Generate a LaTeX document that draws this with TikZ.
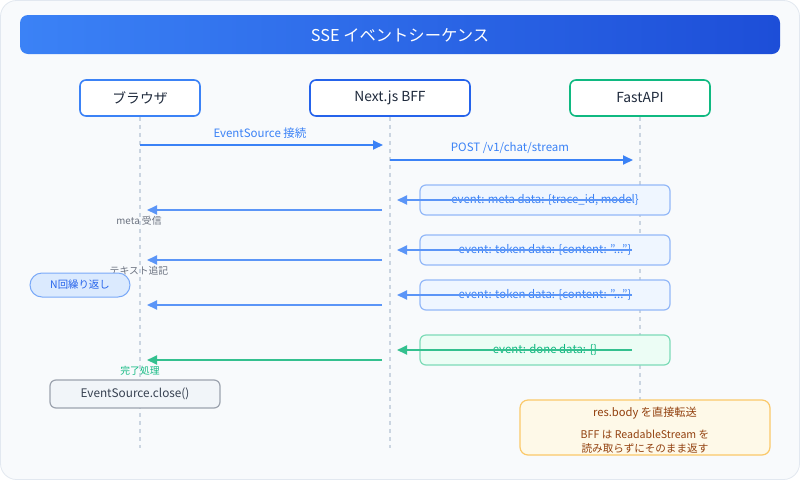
\documentclass[tikz,border=0pt]{standalone}
\usepackage{fontspec}
\setmainfont{Noto Sans CJK JP}
\usetikzlibrary{arrows.meta}
\definecolor{bgc}{HTML}{F8FAFC}
\definecolor{bgline}{HTML}{E2E8F0}
\definecolor{tleft}{HTML}{3B82F6}
\definecolor{tright}{HTML}{1D4ED8}
\definecolor{blu}{HTML}{3B82F6}
\definecolor{blud}{HTML}{2563EB}
\definecolor{blul}{HTML}{5B95F7}
\definecolor{grn}{HTML}{10B981}
\definecolor{grnl}{HTML}{34C08F}
\definecolor{lifec}{HTML}{CBD5E1}
\definecolor{grytxt}{HTML}{6B7280}
\definecolor{darktxt}{HTML}{1E293B}
\definecolor{evfill}{HTML}{EFF6FF}
\definecolor{evline}{HTML}{93B8F8}
\definecolor{dnfill}{HTML}{ECFDF5}
\definecolor{dnline}{HTML}{7DDBB8}
\definecolor{pillfill}{HTML}{DBEAFE}
\definecolor{pillline}{HTML}{7AA9F8}
\definecolor{clfill}{HTML}{F1F5F9}
\definecolor{clline}{HTML}{9CA3AF}
\definecolor{cltxt}{HTML}{374151}
\definecolor{ntfill}{HTML}{FEF9E8}
\definecolor{ntline}{HTML}{FBC96A}
\definecolor{nttxt}{HTML}{92400E}
\begin{document}
\begin{tikzpicture}[x=1pt,y=-1pt,
  actor/.style={draw, fill=white, rounded corners=6pt, line width=1.6pt,
    minimum width=#1, minimum height=36pt, inner sep=0pt, text=darktxt,
    font=\fontsize{13.8}{15}\selectfont},
  life/.style={draw=lifec, line width=1.4pt, dash pattern=on 4pt off 4pt},
  msg/.style={line width=1.8pt, -{Triangle[length=10pt,width=9pt]}},
  lbl/.style={font=\fontsize{11.5}{13}\selectfont, inner sep=0pt},
  evbox/.style={rounded corners=6pt, line width=1.2pt, minimum width=250pt,
    minimum height=30pt, inner sep=0pt, font=\fontsize{11.4}{13}\selectfont}
]
\useasboundingbox (0,0) rectangle (800,480);
\draw[fill=bgc, draw=bgline, rounded corners=16pt, line width=0.8pt] (0.5,0.5) rectangle (799.5,479.5);
\shade[left color=tleft, right color=tright, rounded corners=8pt] (20,15) rectangle (780,54);
\node[text=white, font=\fontsize{16.3}{18}\selectfont] (title) at (400,35) {SSE イベントシーケンス};

% actors
\node[actor=120pt, draw=blu] (br) at (140,98) {ブラウザ};
\node[actor=160pt, draw=blud] (bff) at (390,98) {Next.js BFF};
\node[actor=140pt, draw=grn] (api) at (640,98) {FastAPI};

% lifelines
\coordinate (brEnd) at (140,448);
\coordinate (bffEnd) at (390,448);
\coordinate (apiEnd) at (640,400);
\draw[life] (br.south) -- (brEnd);
\draw[life] (bff.south) -- (bffEnd);
\draw[life] (api.south) -- (apiEnd);

% 1 EventSource
\coordinate (m1s) at (140,145); \coordinate (m1e) at (383,145);
\draw[msg, blu] (m1s) -- (m1e);
\node[lbl, text=blu] (m1l) at (260,133) {EventSource 接続};
% 2 POST
\coordinate (m2s) at (390,160); \coordinate (m2e) at (633,160);
\draw[msg, blu] (m2s) -- (m2e);
\node[lbl, text=blu] (m2l) at (510,148) {POST /v1/chat/stream};

% event boxes
\node[evbox, draw=evline, fill=evfill, text=blu] (ev1) at (545,200) {event: meta data: \{trace\_id, model\}};
\node[evbox, draw=evline, fill=evfill, text=blu] (ev2) at (545,250) {event: token data: \{content: "..."\}};
\node[evbox, draw=evline, fill=evfill, text=blu] (ev3) at (545,295) {event: token data: \{content: "..."\}};
\node[evbox, draw=dnline, fill=dnfill, text=grn] (ev4) at (545,350) {event: done data: \{\}};

% API -> BFF
\coordinate (r1s) at (632,200); \coordinate (r1e) at (397,200);
\coordinate (r2s) at (632,250); \coordinate (r2e) at (397,250);
\coordinate (r3s) at (632,295); \coordinate (r3e) at (397,295);
\coordinate (r4s) at (632,350); \coordinate (r4e) at (397,350);
\draw[msg, blul] (r1s) -- (r1e);
\draw[msg, blul] (r2s) -- (r2e);
\draw[msg, blul] (r3s) -- (r3e);
\draw[msg, grnl] (r4s) -- (r4e);

% BFF -> browser
\coordinate (b1s) at (382,210); \coordinate (b1e) at (147,210);
\coordinate (b2s) at (382,260); \coordinate (b2e) at (147,260);
\coordinate (b3s) at (382,305); \coordinate (b3e) at (147,305);
\coordinate (b4s) at (382,360); \coordinate (b4e) at (147,360);
\draw[msg, blul] (b1s) -- (b1e);
\draw[msg, blul] (b2s) -- (b2e);
\draw[msg, blul] (b3s) -- (b3e);
\draw[msg, grnl] (b4s) -- (b4e);
\node[lbl, text=grytxt, font=\fontsize{9.8}{11}\selectfont] (l1) at (139,221) {meta 受信};
\node[lbl, text=grytxt, font=\fontsize{9.8}{11}\selectfont] (l2) at (139,271) {テキスト追記};
\node[lbl, text=grn, font=\fontsize{9.8}{11}\selectfont] (l4) at (140,371) {完了処理};

% pill
\node[draw=pillline, fill=pillfill, rounded corners=12pt, line width=1pt,
  minimum width=100pt, minimum height=24pt, inner sep=0pt, text=blud,
  font=\fontsize{10.4}{12}\selectfont] (pill) at (80,285) {N回繰り返し};

% close box
\node[draw=clline, fill=clfill, rounded corners=6pt, line width=1.2pt,
  minimum width=170pt, minimum height=28pt, inner sep=0pt, text=cltxt,
  font=\fontsize{11.8}{13}\selectfont] (close) at (135,394) {EventSource.close()};

% note
\node[draw=ntline, fill=ntfill, rounded corners=8pt, line width=1.2pt,
  minimum width=250pt, minimum height=55pt, inner sep=0pt] (note) at (645,427.5) {};
\node[text=nttxt, font=\fontsize{11.2}{12}\selectfont, inner sep=0pt] (n1) at (645,413) {res.body を直接転送};
\node[text=nttxt, font=\fontsize{10.6}{11}\selectfont, inner sep=0pt] (n2) at (645,434) {BFF は ReadableStream を};
\node[text=nttxt, font=\fontsize{10.6}{11}\selectfont, inner sep=0pt] (n3) at (645,448) {読み取らずにそのまま返す};
\end{tikzpicture}
\end{document}
